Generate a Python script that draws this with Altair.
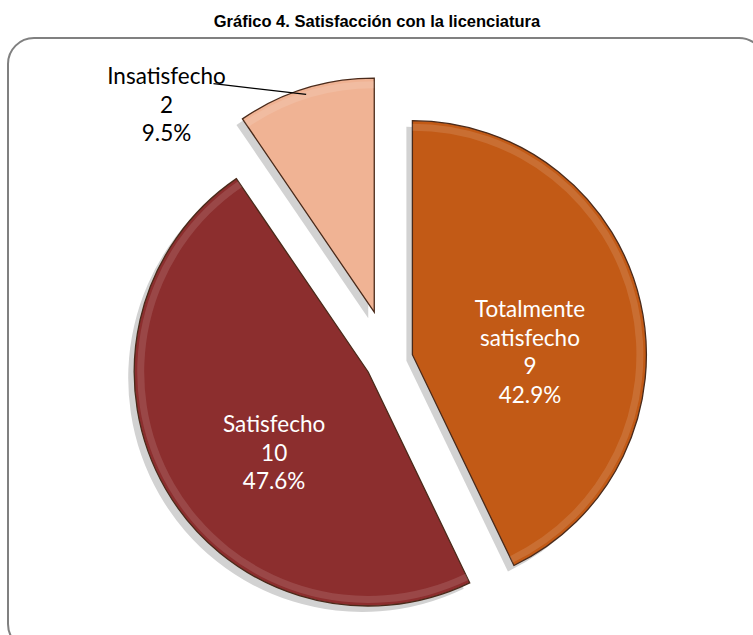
import altair as alt
import pandas as pd

# ---- data ----
categories = ["Totalmente satisfecho", "Satisfecho", "Insatisfecho"]
counts = [9, 10, 2]
title_text = "Gráfico 4. Satisfacción con la licenciatura"

# ---- style ----
colors = ["#C25A16", "#8C2E2E", "#F0B394"]
W, H = 753, 635
CX, CY = 389, 360
R = 234
EXPLODE_SMALL, EXPLODE_BIG = 24, 50
LABEL_FONT = "Lato"
LABEL_SIZE = 22.5
LINE_H = 28.5

df = pd.DataFrame({"category": categories, "count": counts, "order": list(range(len(categories)))})

base = (
    alt.Chart(df)
    .transform_joinaggregate(total="sum(count)")
    .transform_window(cum="sum(count)", sort=[alt.SortField("order")], frame=[None, 0])
    .transform_calculate(start="2*PI*(datum.cum-datum.count)/datum.total")
    .transform_calculate(end="2*PI*datum.cum/datum.total")
    .transform_calculate(mid="(datum.start+datum.end)/2")
    .transform_calculate(pct="datum.count/datum.total")
    .transform_calculate(ex=f"datum.pct < 0.15 ? {EXPLODE_BIG} : {EXPLODE_SMALL}")
    .transform_calculate(px=f"{CX}+datum.ex*sin(datum.mid)")
    .transform_calculate(py=f"{CY}-datum.ex*cos(datum.mid)")
    .transform_calculate(sx="datum.px-6")
    .transform_calculate(sy="datum.py+6")
    .transform_calculate(
        label="replace(datum.category, ' ', '\\n') + '\\n' + datum.count + '\\n' + format(datum.pct, '.1%')"
    )
    .transform_calculate(nl="length(split(datum.label, '\\n'))")
)

color_scale = alt.Scale(domain=categories, range=colors)

shadow = base.mark_arc(radius=R, fill="#d2d2d2").encode(
    x=alt.X("sx:Q", scale=None, axis=None),
    y=alt.Y("sy:Q", scale=None, axis=None),
    theta=alt.Theta("start:Q", scale=None),
    theta2=alt.Theta2("end:Q"),
)

arcs = base.mark_arc(radius=R, stroke="#4a2a1a", strokeWidth=1.3).encode(
    x=alt.X("px:Q", scale=None, axis=None),
    y=alt.Y("py:Q", scale=None, axis=None),
    theta=alt.Theta("start:Q", scale=None),
    theta2=alt.Theta2("end:Q"),
    color=alt.Color("category:N", scale=color_scale, legend=None),
)

bevel = base.mark_arc(radius=R - 3, innerRadius=R - 10, fill="white", opacity=0.12).encode(
    x=alt.X("px:Q", scale=None, axis=None),
    y=alt.Y("py:Q", scale=None, axis=None),
    theta=alt.Theta("start:Q", scale=None),
    theta2=alt.Theta2("end:Q"),
)

inside = (
    base.transform_filter("datum.pct >= 0.15")
    .transform_calculate(lx="datum.px + 115*sin(datum.mid) + 5.5")
    .transform_calculate(ly=f"datum.py - 115*cos(datum.mid) + 24 - (datum.nl-1)*{LINE_H}/2")
    .mark_text(font=LABEL_FONT, fontSize=LABEL_SIZE, color="white", lineBreak="\n",
               lineHeight=LINE_H, align="center", baseline="middle")
    .encode(x=alt.X("lx:Q", scale=None, axis=None), y=alt.Y("ly:Q", scale=None, axis=None),
            text="label:N")
)

outside_base = (
    base.transform_filter("datum.pct < 0.15")
    .transform_calculate(lx="datum.px + 293*sin(datum.mid - 0.489)")
    .transform_calculate(ly="datum.py - 293*cos(datum.mid - 0.489)")
    .transform_calculate(ex1="datum.px + (%d)*sin(datum.mid)" % (R - 3))
    .transform_calculate(ey1="datum.py - (%d)*cos(datum.mid)" % (R - 6))
    .transform_calculate(lx0="datum.lx + 47")
    .transform_calculate(ly0="datum.ly - 22")
    .transform_calculate(lyt=f"datum.ly - (datum.nl-1)*{LINE_H}/2")
)

outside = outside_base.mark_text(
    font=LABEL_FONT, fontSize=LABEL_SIZE, color="black", lineBreak="\n",
    lineHeight=LINE_H, align="center", baseline="middle"
).encode(x=alt.X("lx:Q", scale=None, axis=None), y=alt.Y("lyt:Q", scale=None, axis=None),
         text="label:N")

leader = outside_base.mark_rule(color="black", strokeWidth=1.3).encode(
    x=alt.X("lx0:Q", scale=None, axis=None), y=alt.Y("ly0:Q", scale=None, axis=None),
    x2="ex1:Q", y2="ey1:Q",
)

frame = alt.Chart(pd.DataFrame({"a": [0]})).mark_rect(
    cornerRadius=26, fill="white", stroke="#808080", strokeWidth=2
).encode(x=alt.value(8), x2=alt.value(765), y=alt.value(38), y2=alt.value(650))

title = alt.Chart(pd.DataFrame({"t": [title_text]})).mark_text(
    font="Liberation Sans, Arial", fontSize=16.5, fontWeight="bold",
    color="black", align="center", baseline="middle"
).encode(text="t:N", x=alt.value(377), y=alt.value(22))

chart = (
    alt.layer(frame, shadow, arcs, bevel, leader, inside, outside, title)
    .properties(width=W, height=H, autosize="none", padding=0, background="white")
    .configure_view(stroke=None)
)

chart.save("out.html", embed_options={"renderer": "svg", "actions": False})
